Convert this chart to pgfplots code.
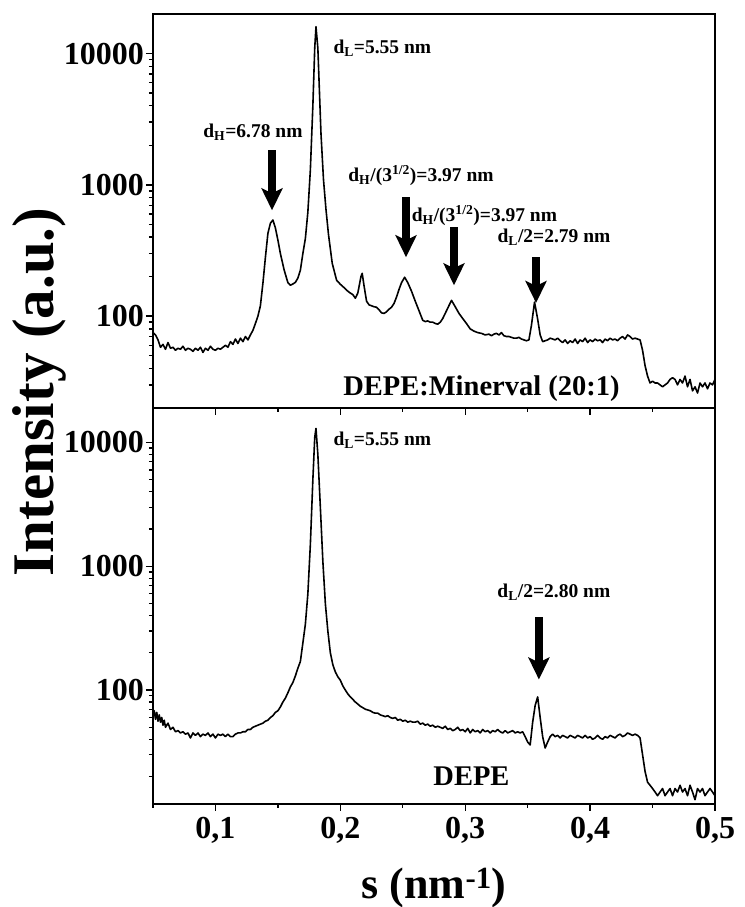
\documentclass[border=0pt]{standalone}
\usepackage{fontspec}
\setmainfont{Liberation Serif}
\usepackage{pgfplots}
\pgfplotsset{compat=1.18}
\usetikzlibrary{arrows.meta}
\newcommand\anno{\fontsize{19.5}{20}\selectfont\bfseries}
\newcommand\bigfnt{\fontsize{28.5}{30}\selectfont\bfseries}
\newcommand\tickfnt{\fontsize{32}{32}\selectfont\bfseries}
\tikzset{bigarrow/.style={line width=7.5pt, -{Stealth[width=21pt,length=22pt,inset=5pt]}}}
\begin{document}
\begin{tikzpicture}
\useasboundingbox (0,0) rectangle (744pt,907pt);
% ---------------- top panel ----------------
\begin{axis}[ymode=log, scale only axis, width=562pt, height=394pt,
  at={(153pt,499pt)}, anchor=south west,
  xmin=0.05, xmax=0.5, ymin=20, ymax=20000, clip=false,
  axis line style={line width=1.6pt},
  tick style={line width=1.4pt, black},
  tick align=outside, major tick length=7pt, minor tick length=4pt,
  xtick={0.1,0.2,0.3,0.4,0.5}, minor xtick={0.05,0.15,0.25,0.35,0.45},
  xtick pos=bottom, ytick pos=left,
  ytick={100,1000,10000},
  yticklabels={\textbf{100},\textbf{1000},\textbf{10000}},
  xticklabels={},
  tick label style={font=\tickfnt},
  yticklabel style={inner sep=2pt},
  minor ytick={30,40,50,60,70,80,90,200,300,400,500,600,700,800,900,2000,3000,4000,5000,6000,7000,8000,9000}]
\addplot[black, line width=1.6pt, line join=round, mark=none] coordinates {
(0.050,75)(0.052,72)(0.054,66)(0.056,58)(0.058,61)(0.060,56)(0.062,63)(0.064,57)(0.066,58)(0.068,55)
(0.070,57)(0.072,56)(0.074,59)(0.076,55)(0.078,57)(0.080,56)(0.082,54)(0.084,57)(0.086,55)(0.088,58)
(0.090,53)(0.092,57)(0.094,55)(0.096,59)(0.098,56)(0.100,55)(0.102,57)(0.104,56)(0.106,58)(0.108,60)
(0.110,58)(0.112,64)(0.114,61)(0.116,67)(0.118,62)(0.120,68)(0.122,64)(0.124,70)(0.126,66)(0.128,72)
(0.130,78)(0.132,88)(0.134,100)(0.136,120)(0.138,178)(0.140,280)(0.142,427)(0.144,510)(0.146,540)(0.148,470)
(0.150,380)(0.152,300)(0.155,225)(0.158,180)(0.160,172)(0.162,176)(0.164,181)(0.166,195)(0.168,224)(0.170,300)
(0.172,390)(0.174,620)(0.176,1300)(0.178,4000)(0.1795,11000)(0.1805,16000)(0.182,11000)(0.1845,2460)(0.1865,1100)(0.1885,650)
(0.1905,420)(0.1935,253)(0.197,188)(0.200,175)(0.203,165)(0.206,155)(0.208,150)(0.210,146)(0.212,137)(0.214,150)
(0.2165,200)(0.2175,212)(0.219,170)(0.221,130)(0.223,122)(0.225,120)(0.227,118)(0.229,117)(0.231,112)(0.233,106)
(0.235,105)(0.237,108)(0.239,113)(0.241,117)(0.243,125)(0.245,140)(0.247,160)(0.249,180)(0.2515,198)(0.254,180)
(0.257,155)(0.260,130)(0.263,110)(0.266,93)(0.268,91)(0.270,92)(0.272,90)(0.274,90)(0.276,88)(0.278,87)
(0.280,90)(0.282,96)(0.285,110)(0.289,132)(0.292,118)(0.295,105)(0.298,96)(0.301,88)(0.304,80)(0.307,77)
(0.310,75)(0.313,74)(0.316,72)(0.319,73)(0.321,71)(0.323,73)(0.325,74)(0.327,72)(0.329,75)(0.331,71)
(0.333,70)(0.335,70)(0.337,69)(0.339,68)(0.341,68)(0.343,69)(0.345,67)(0.347,66)(0.349,65)(0.351,66)
(0.353,85)(0.3555,128)(0.358,95)(0.360,72)(0.362,64)(0.364,65)(0.366,66)(0.368,68)(0.370,67)(0.372,66)
(0.374,68)(0.376,65)(0.378,63)(0.380,66)(0.382,62)(0.384,65)(0.386,63)(0.388,67)(0.390,62)(0.392,66)
(0.394,64)(0.396,68)(0.398,63)(0.400,66)(0.402,64)(0.404,67)(0.406,65)(0.408,66)(0.410,63)(0.412,67)
(0.414,65)(0.416,68)(0.418,66)(0.420,67)(0.422,65)(0.424,68)(0.426,70)(0.428,67)(0.430,72)(0.432,70)
(0.434,67)(0.436,68)(0.438,67)(0.440,66)(0.442,55)(0.444,42)(0.446,35)(0.448,31)(0.450,32)(0.452,31)
(0.454,31)(0.456,30)(0.458,29)(0.460,30)(0.462,31)(0.464,33)(0.466,34)(0.468,33)(0.470,30)(0.472,33)
(0.474,31)(0.476,35)(0.478,29)(0.480,33)(0.482,27)(0.484,29)(0.486,26)(0.488,31)(0.490,29)(0.492,31)
(0.494,28)(0.496,31)(0.498,30)(0.500,33)
};
\node[anchor=west, font=\anno] at (axis cs:0.1917,11000) {d\textsubscript{L}=5.55 nm};
\node[font=\anno] at (axis cs:0.130,2500) {d\textsubscript{H}=6.78 nm};
\node[font=\anno] at (axis cs:0.2646,1180) {d\textsubscript{H}/(3\textsuperscript{1/2})=3.97 nm};
\node[font=\anno] at (axis cs:0.3154,586) {d\textsubscript{H}/(3\textsuperscript{1/2})=3.97 nm};
\node[font=\anno] at (axis cs:0.3711,399) {d\textsubscript{L}/2=2.79 nm};
\node[font=\bigfnt] at (axis cs:0.313,28.3) {DEPE:Minerval (20:1)};
\draw[bigarrow] (axis cs:0.1453,1830) -- (axis cs:0.1453,640);
\draw[bigarrow] (axis cs:0.2526,804) -- (axis cs:0.2526,281);
\draw[bigarrow] (axis cs:0.291,475) -- (axis cs:0.291,172);
\draw[bigarrow] (axis cs:0.3567,281) -- (axis cs:0.3567,126);
\end{axis}
% ---------------- bottom panel ----------------
\begin{axis}[ymode=log, scale only axis, width=562pt, height=396pt,
  at={(153pt,103pt)}, anchor=south west,
  xmin=0.05, xmax=0.5, ymin=12, ymax=19000, clip=false,
  axis line style={line width=1.6pt},
  tick style={line width=1.4pt, black},
  tick align=outside, major tick length=7pt, minor tick length=4pt,
  xtick={0.1,0.2,0.3,0.4,0.5}, minor xtick={0.05,0.15,0.25,0.35,0.45},
  xtick pos=bottom, ytick pos=left,
  ytick={100,1000,10000},
  yticklabels={\textbf{100},\textbf{1000},\textbf{10000}},
  xticklabels={\textbf{0,1},\textbf{0,2},\textbf{0,3},\textbf{0,4},\textbf{0,5}},
  tick label style={font=\tickfnt},
  yticklabel style={inner sep=2pt},
  xticklabel style={inner sep=6pt},
  minor ytick={20,30,40,50,60,70,80,90,200,300,400,500,600,700,800,900,2000,3000,4000,5000,6000,7000,8000,9000}]
\addplot[black, line width=1.6pt, line join=round, mark=none] coordinates {
(0.050,62)(0.051,68)(0.052,58)(0.053,66)(0.054,56)(0.055,63)(0.056,55)(0.057,60)(0.058,52)(0.059,57)
(0.060,50)(0.062,54)(0.064,48)(0.066,50)(0.068,46)(0.070,47)(0.072,45)(0.074,46)(0.076,44)(0.078,45)
(0.080,41)(0.082,45)(0.084,43)(0.086,45)(0.088,42)(0.090,44)(0.092,43)(0.094,45)(0.096,42)(0.098,44)
(0.100,41)(0.102,44)(0.104,43)(0.106,44)(0.108,42)(0.110,44)(0.112,42)(0.114,42)(0.116,44)(0.118,45)
(0.120,45)(0.122,46)(0.124,46)(0.126,48)(0.128,48)(0.130,50)(0.132,51)(0.134,52)(0.136,53)(0.138,54)
(0.140,56)(0.142,57)(0.144,60)(0.146,62)(0.148,66)(0.150,68)(0.152,73)(0.154,80)(0.156,86)(0.158,95)
(0.160,106)(0.162,115)(0.164,130)(0.166,150)(0.168,170)(0.170,240)(0.172,340)(0.174,600)(0.176,1500)(0.178,5000)
(0.1795,11000)(0.1805,13000)(0.182,8000)(0.184,3000)(0.186,1100)(0.188,500)(0.190,300)(0.192,200)(0.194,160)(0.196,140)
(0.198,128)(0.200,120)(0.202,108)(0.204,100)(0.206,93)(0.208,88)(0.210,84)(0.212,80)(0.214,77)(0.216,74)
(0.218,72)(0.220,70)(0.222,69)(0.224,68)(0.226,66)(0.228,65)(0.230,65)(0.232,63)(0.234,62)(0.236,61)
(0.238,62)(0.240,60)(0.242,59)(0.244,60)(0.246,57)(0.248,58)(0.250,56)(0.252,57)(0.254,55)(0.256,56)
(0.258,55)(0.260,55)(0.262,56)(0.264,53)(0.266,54)(0.268,52)(0.270,53)(0.272,51)(0.274,52)(0.276,50)
(0.278,51)(0.280,50)(0.282,49)(0.284,51)(0.286,48)(0.288,49)(0.290,47)(0.292,48)(0.294,50)(0.296,47)
(0.298,48)(0.300,46)(0.302,49)(0.304,45)(0.306,48)(0.308,46)(0.310,47)(0.312,45)(0.314,48)(0.316,46)
(0.318,47)(0.320,45)(0.322,47)(0.324,46)(0.326,48)(0.328,46)(0.330,45)(0.332,47)(0.334,45)(0.336,46)
(0.338,47)(0.340,45)(0.342,46)(0.344,45)(0.346,46)(0.348,42)(0.350,38)(0.352,36)(0.354,55)(0.356,75)
(0.358,88)(0.360,60)(0.362,42)(0.364,34)(0.366,38)(0.368,42)(0.370,44)(0.372,42)(0.374,43)(0.376,41)
(0.378,43)(0.380,42)(0.382,41)(0.384,43)(0.386,42)(0.388,41)(0.390,43)(0.392,42)(0.394,41)(0.396,43)
(0.398,41)(0.400,42)(0.402,40)(0.404,41)(0.406,43)(0.408,41)(0.410,40)(0.412,42)(0.414,41)(0.416,43)
(0.418,42)(0.420,41)(0.422,43)(0.424,44)(0.426,42)(0.428,43)(0.430,45)(0.432,44)(0.434,43)(0.436,44)
(0.438,43)(0.440,41)(0.442,30)(0.444,22)(0.446,18)(0.448,17)(0.450,16)(0.452,15)(0.454,14)(0.456,15)
(0.458,16)(0.460,14)(0.462,15)(0.464,16)(0.466,14)(0.468,16)(0.470,15)(0.472,17)(0.474,15)(0.476,16)
(0.478,14)(0.480,17)(0.482,15)(0.484,13)(0.486,16)(0.488,15)(0.490,16)(0.492,14)(0.494,15)(0.496,16)
(0.498,15)(0.500,14)
};
\node[anchor=west, font=\anno] at (axis cs:0.1917,10500) {d\textsubscript{L}=5.55 nm};
\node[font=\anno] at (axis cs:0.371,615) {d\textsubscript{L}/2=2.80 nm};
\node[font=\bigfnt] at (axis cs:0.305,20) {DEPE};
\draw[bigarrow] (axis cs:0.359,386) -- (axis cs:0.359,121.6);
\end{axis}
% axis titles
\node[rotate=90, anchor=base, font=\fontsize{59}{59}\selectfont\bfseries] at (53pt,515pt) {Intensity (a.u.)};
\node[anchor=base, font=\fontsize{44}{44}\selectfont\bfseries] at (434pt,9pt) {s (nm\textsuperscript{-1})};
\end{tikzpicture}
\end{document}
